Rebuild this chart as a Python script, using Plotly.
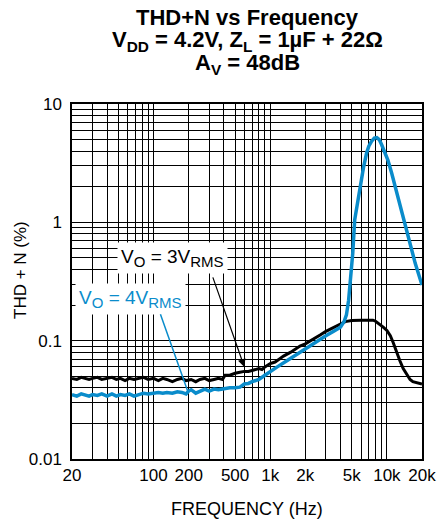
import numpy as np
import plotly.graph_objects as go

# ---------------- data ----------------
freq_3v = [20, 22, 24, 26, 28, 30, 33, 36, 40, 44, 48, 52, 57, 62, 68, 75, 82, 90,
           100, 110, 120, 130, 145, 160, 175, 190, 210, 230, 250, 275, 300, 330, 360,
           390, 410, 450, 500, 550, 600, 650, 700, 750, 800, 850, 900, 1000, 1100,
           1200, 1300, 1500, 1800, 2000, 2400, 2700, 3000, 3400, 3900, 4400, 5000,
           5300, 6000, 6500, 7000, 7600, 8000, 8700, 9300, 10000, 10700, 11300, 12000,
           12900, 13800, 14900, 15800, 16700, 18000, 20000]
thd_3v = [0.048, 0.047, 0.049, 0.048, 0.047, 0.048, 0.049, 0.047, 0.048, 0.049, 0.047, 0.048,
          0.046, 0.048, 0.047, 0.048, 0.049, 0.047, 0.048, 0.046, 0.048, 0.047, 0.045, 0.047,
          0.048, 0.046, 0.047, 0.045, 0.047, 0.048, 0.046, 0.047, 0.048, 0.047, 0.051, 0.051,
          0.053, 0.054, 0.055, 0.055, 0.056, 0.057, 0.058, 0.057, 0.060, 0.064, 0.066,
          0.070, 0.074, 0.080, 0.090, 0.094, 0.104, 0.112, 0.120, 0.128, 0.138, 0.145, 0.148,
          0.149, 0.149, 0.149, 0.149, 0.149, 0.146, 0.138, 0.130, 0.122, 0.110, 0.097, 0.082,
          0.068, 0.058, 0.051, 0.047, 0.045, 0.044, 0.043]

freq_4v = [20, 22, 24, 26, 28, 30, 33, 36, 40, 44, 48, 52, 57, 62, 68, 75, 82, 90,
           100, 110, 120, 130, 145, 160, 175, 190, 200, 210, 230, 250, 275, 300, 330,
           360, 390, 410, 450, 500, 550, 600, 650, 700, 800, 900, 1000, 1150, 1400,
           1800, 2200, 2500, 3000, 3500, 4000, 4300, 4500, 4700, 4900, 5100, 5300,
           5600, 5900, 6300, 6700, 7000, 7400, 7800, 8200, 8600, 9000, 9600, 10200,
           11000, 11800, 12900, 14300, 15800, 17500, 20000]
thd_4v = [0.035, 0.034, 0.0355, 0.035, 0.034, 0.035, 0.0345, 0.0355, 0.034, 0.0355, 0.034,
          0.035, 0.0345, 0.0355, 0.034, 0.035, 0.036, 0.0355, 0.036, 0.0365, 0.036, 0.0365,
          0.036, 0.037, 0.0365, 0.0355, 0.0375, 0.0385, 0.036, 0.0375, 0.039, 0.0375, 0.039,
          0.0385, 0.039, 0.040, 0.040, 0.040, 0.0405, 0.043, 0.0435, 0.045, 0.047, 0.051,
          0.055, 0.060, 0.068, 0.080, 0.090, 0.098, 0.110, 0.120, 0.130, 0.145, 0.165,
          0.22, 0.33, 0.55, 1.05, 1.5, 2.0, 2.9, 3.85, 4.4, 4.85, 5.15, 5.2, 5.0, 4.55,
          3.9, 3.36, 2.6, 2.0, 1.46, 0.95, 0.67, 0.45, 0.295]

x_grid = [20, 30, 40, 50, 60, 70, 80, 90, 100, 200, 300, 400, 500, 600, 700, 800, 900,
          1000, 2000, 3000, 4000, 5000, 6000, 7000, 8000, 9000, 10000, 20000]
x_labels = ["20", "", "", "", "", "", "", "", "100", "200", "", "", "500", "", "", "", "",
            "1k", "2k", "", "", "5k", "", "", "", "", "10k", "20k"]
y_grid = [0.01, 0.02, 0.03, 0.04, 0.05, 0.06, 0.07, 0.08, 0.09,
          0.1, 0.2, 0.3, 0.4, 0.5, 0.6, 0.7, 0.8, 0.9,
          1, 2, 3, 4, 5, 6, 7, 8, 9, 10]
y_labels = ["0.01"] + [""] * 8 + ["0.1"] + [""] * 8 + ["1"] + [""] * 8 + ["10"]

BLUE = "#0a8ccb"
FONT = "Liberation Sans, Arial, sans-serif"

fig = go.Figure()
fig.add_trace(go.Scatter(x=freq_3v, y=thd_3v, mode="lines",
                         line=dict(color="black", width=3), showlegend=False))
fig.add_trace(go.Scatter(x=freq_4v, y=thd_4v, mode="lines",
                         line=dict(color=BLUE, width=3.5), showlegend=False))

axis_common = dict(showgrid=True, gridcolor="black", gridwidth=1, showline=True,
                   linecolor="black", linewidth=1.5, mirror=True, zeroline=False,
                   ticks="outside", tickcolor="rgba(0,0,0,0)",
                   tickfont=dict(family=FONT, size=17, color="black"))

fig.update_xaxes(type="log", range=[np.log10(20), np.log10(20000)],
                 tickvals=x_grid, ticktext=x_labels, ticklen=0, **axis_common)
fig.update_yaxes(type="log", range=[-2, 1],
                 tickvals=y_grid, ticktext=y_labels, ticklen=5, **axis_common)

annotations = [
    dict(text="<b>THD+N vs Frequency</b>", y=17.5),
    dict(text="<b>V<sub>DD</sub> = 4.2V, Z<sub>L</sub> = 1µF + 22Ω</b>", y=40.5),
    dict(text="<b>A<sub>V</sub> = 48dB</b>", y=64.5),
]
for a in annotations:
    fig.add_annotation(text=a["text"], xref="paper", yref="paper",
                       x=0.5, y=(459 - a["y"]) / 355, xanchor="center", yanchor="middle",
                       showarrow=False, font=dict(family=FONT, size=22, color="black"))

fig.add_annotation(text="FREQUENCY (Hz)", xref="paper", yref="paper", x=0.5,
                   y=(459 - 509) / 355, xanchor="center", yanchor="middle", showarrow=False,
                   font=dict(family=FONT, size=18, color="black"))
fig.add_annotation(text="THD + N (%)", xref="paper", yref="paper", x=(20 - 72) / 350,
                   y=(459 - 270) / 355, xanchor="center", yanchor="middle", showarrow=False,
                   textangle=-90, font=dict(family=FONT, size=17, color="black"))

# series labels
SUB = "<sub><span style='font-size:15px'>{}</span></sub>"
fig.add_annotation(text="V" + SUB.format("O") + " = 3V" + SUB.format("RMS"),
                   x=np.log10(146), y=np.log10(0.50),
                   xref="x", yref="y", showarrow=False, bgcolor="white", borderpad=3,
                   font=dict(family=FONT, size=19, color="black"))
fig.add_annotation(text="V" + SUB.format("O") + " = 4V" + SUB.format("RMS"),
                   x=np.log10(63), y=np.log10(0.225),
                   xref="x", yref="y", showarrow=False, bgcolor="white", borderpad=3,
                   font=dict(family=FONT, size=19, color=BLUE))
# pointers
fig.add_annotation(text="", x=np.log10(600), y=np.log10(0.06), xref="x", yref="y",
                   showarrow=True, ax=-32, ay=-91, arrowcolor="black", arrowwidth=1.2,
                   arrowhead=2, arrowsize=1.3)
fig.add_annotation(text="", x=np.log10(197), y=np.log10(0.037), xref="x", yref="y",
                   showarrow=True, ax=-28, ay=-79, arrowcolor=BLUE, arrowwidth=1.5,
                   arrowhead=0)

fig.update_layout(width=447, height=521, margin=dict(l=72, r=25, t=104, b=62),
                  paper_bgcolor="white", plot_bgcolor="white",
                  font=dict(family=FONT, color="black"))

fig.write_html("out.html")
